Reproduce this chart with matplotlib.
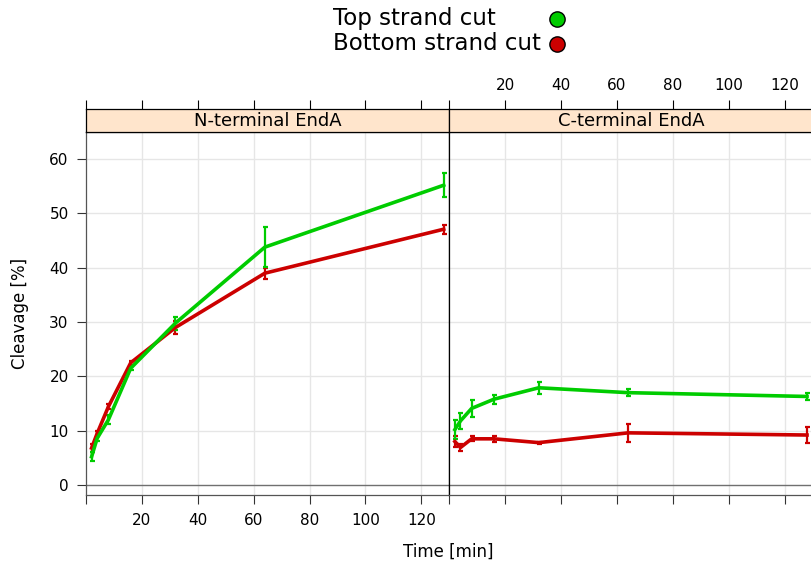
import matplotlib
matplotlib.use('Agg')
from matplotlib import pyplot as plt

# data
time = [2, 4, 8, 16, 32, 64, 128]

series_names = ['Top strand cut', 'Bottom strand cut']
series_colors = ['#00cc00', '#cc0000']

panel_names = ['N-terminal EndA', 'C-terminal EndA']

n_top = [5.2, 8.6, 12.0, 21.5, 29.8, 43.8, 55.2]
n_top_err = [0.8, 0.5, 0.8, 0.4, 1.2, 3.7, 2.2]
n_bottom = [6.8, 9.5, 14.4, 22.5, 29.0, 39.0, 47.1]
n_bottom_err = [0.8, 0.4, 0.5, 0.4, 1.2, 1.0, 0.8]

c_top = [10.2, 11.8, 14.1, 15.8, 17.9, 17.0, 16.3]
c_top_err = [1.8, 1.5, 1.5, 0.8, 1.1, 0.6, 0.6]
c_bottom = [8.0, 6.9, 8.5, 8.5, 7.8, 9.6, 9.2]
c_bottom_err = [1.0, 0.6, 0.45, 0.6, 0.2, 1.6, 1.45]

x_ticks = [0, 20, 40, 60, 80, 100, 120]
y_ticks = [0, 10, 20, 30, 40, 50, 60]

#%%
W, H = 811, 568
fig = plt.figure(figsize=(W / 100, H / 100), dpi=100)


def box(x0, y0, x1, y1):
    return [x0 / W, 1 - y1 / H, (x1 - x0) / W, (y1 - y0) / H]


leg = fig.add_axes([0, 0, 1, 1])
leg.set_xlim(0, W)
leg.set_ylim(H, 0)
leg.axis('off')

ax_l = fig.add_axes(box(86, 132, 449.3, 495.3))
ax_r = fig.add_axes(box(449.3, 132, 812.6, 495.3))
strip_l = fig.add_axes(box(86, 109, 449.3, 132))
strip_r = fig.add_axes(box(449.3, 109, 812.6, 132))

data = [
    [(n_top, n_top_err), (n_bottom, n_bottom_err)],
    [(c_top, c_top_err), (c_bottom, c_bottom_err)],
]

frame = '#555555'
for ax, panel in zip((ax_l, ax_r), data):
    ax.set_xlim(0, 130)
    ax.set_ylim(-1.9, 65)
    for x in x_ticks[1:]:
        ax.axvline(x, color='#e6e6e6', lw=1, zorder=0)
    for y in y_ticks[1:]:
        ax.axhline(y, color='#e6e6e6', lw=1, zorder=0)
    ax.axhline(0, color='#707070', lw=1, zorder=0.5)
    # bottom strand first so top strand sits above it
    for (vals, err), color in reversed(list(zip(panel, series_colors))):
        ax.errorbar(time, vals, yerr=err, color=color, lw=2.6,
                    elinewidth=1.6, capsize=1.8, capthick=1.6, zorder=3)
    ax.set_xticks(x_ticks)
    ax.set_yticks(y_ticks)
    ax.tick_params(direction='out', length=6.5, width=0.8, color='#333333',
                   labelsize=11, pad=6)
    for s in ax.spines.values():
        s.set_color(frame)
        s.set_linewidth(0.9)

ax_l.set_xticklabels([''] + [str(x) for x in x_ticks[1:]])
ax_l.tick_params(axis='y', pad=6)
ax_l.spines['right'].set_color('black')
ax_r.spines['left'].set_color('black')
ax_r.set_xticklabels([])
ax_r.tick_params(axis='y', left=False, labelleft=False)

for strip, name, labelled in zip((strip_l, strip_r), panel_names, (False, True)):
    strip.set_facecolor('#ffe5cc')
    strip.set_xlim(0, 130)
    strip.set_ylim(0, 1)
    strip.set_yticks([])
    strip.set_xticks(x_ticks)
    strip.xaxis.tick_top()
    strip.tick_params(axis='x', direction='out', length=6.5, width=0.8,
                      color='black', labelsize=11, pad=5,
                      labeltop=labelled, bottom=False, labelbottom=False)
    if labelled:
        strip.set_xticklabels([''] + [str(x) for x in x_ticks[1:]])
    for s in strip.spines.values():
        s.set_color('black')
        s.set_linewidth(0.9)
    strip.text(0.5, 0.5, name, transform=strip.transAxes, ha='center',
               va='center', fontsize=13)

fig.text(20 / W, 1 - 313 / H, 'Cleavage [%]', rotation=90, ha='center',
         va='center', fontsize=12)
fig.text(448.5 / W, 1 - 552 / H, 'Time [min]', ha='center', va='center',
         fontsize=12)

# lattice style key: text on the left, point on the right
for i, (name, color) in enumerate(zip(series_names, series_colors)):
    y = 19 + i * 24.5
    leg.text(333, y, name, ha='left', va='center', fontsize=16.5)
    leg.plot([557], [y], marker='o', ms=11, mfc=color, mec='black', mew=1)

fig.savefig('out.png', dpi=100)
